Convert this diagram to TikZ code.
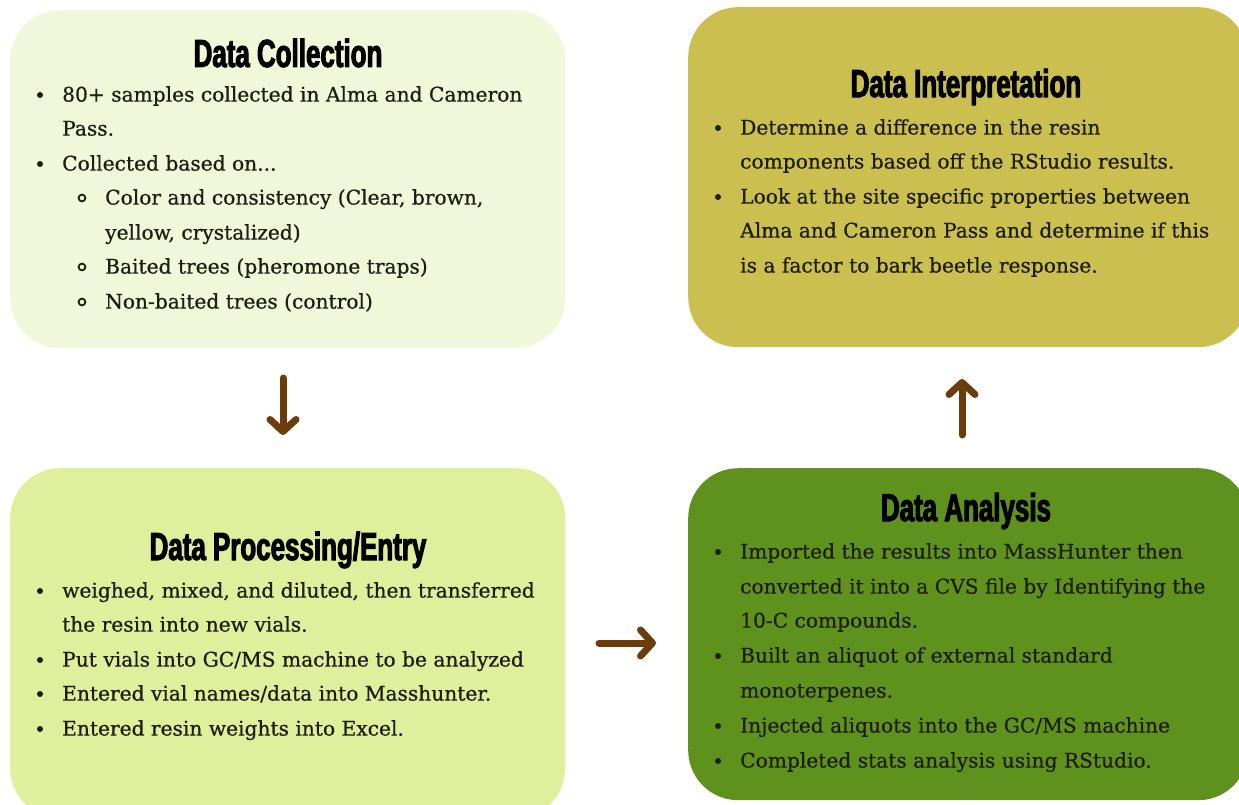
\documentclass[tikz,border=0pt]{standalone}
\usepackage{fontspec}
\setmainfont[FakeBold=0.7]{DejaVu Serif}
\newfontfamily\headfont[FakeStretch=0.665,FakeBold=2.6]{Liberation Sans}
\usetikzlibrary{arrows.meta}

\definecolor{ink}{HTML}{1E1E16}
\definecolor{paleleaf}{HTML}{F1F8D9}
\definecolor{olive}{HTML}{CBBF4F}
\definecolor{lime}{HTML}{DFEF9B}
\definecolor{moss}{HTML}{5F921D}
\definecolor{bark}{HTML}{6B3D0B}

\begin{document}
\begin{tikzpicture}[x=1pt,y=-1pt,
  panel/.style={rounded corners=50pt, inner sep=0pt, anchor=north west},
  heading/.style={font=\headfont\bfseries\fontsize{39}{39}\selectfont, inner sep=0pt, anchor=center, text=black},
  body/.style={font=\fontsize{20.2}{20.2}\selectfont, inner sep=0pt, anchor=mid west, text=ink, yshift=-4pt},
  dot/.style={fill=ink},
  ring/.style={draw=ink, line width=1.8pt},
  flow/.style={draw=bark, line width=7pt, line cap=round, line join=round,
    -{Straight Barb[length=12pt,width=26pt,round]}}
]
\useasboundingbox (0,0) rectangle (1239,805);
\clip (0,0) rectangle (1239,805);

% ---------- panels ----------
\node[panel, fill=paleleaf, minimum width=555pt, minimum height=338pt] (collect) at (10,10) {};
\node[panel, fill=olive,    minimum width=560pt, minimum height=340pt] (interp)  at (688,7) {};
\node[panel, fill=lime,     minimum width=555pt, minimum height=350pt] (process) at (10,468) {};
\node[panel, fill=moss,     minimum width=560pt, minimum height=332pt] (analysis) at (688,468) {};

% ---------- Data Collection ----------
\node[heading] (collectT) at (288,53) {Data Collection};
\fill[dot] (40,95) circle (3pt);
\node[body] (c1) at (62,95)  {80+ samples collected in Alma and Cameron};
\node[body] (c2) at (62,129) {Pass.};
\fill[dot] (40,164) circle (3pt);
\node[body] (c3) at (62,164) {Collected based on...};
\draw[ring] (82,198) circle (3.4pt);
\node[body] (c4) at (105,198) {Color and consistency (Clear, brown,};
\node[body] (c5) at (105,233) {yellow, crystalized)};
\draw[ring] (82,267) circle (3.4pt);
\node[body] (c6) at (105,267) {Baited trees (pheromone traps)};
\draw[ring] (82,302) circle (3.4pt);
\node[body] (c7) at (105,302) {Non-baited trees (control)};

% ---------- Data Interpretation ----------
\node[heading] (interpT) at (966,87) {Data Interpretation};
\fill[dot] (718,128) circle (3pt);
\node[body] (i1) at (740,128) {Determine a difference in the resin};
\node[body] (i2) at (740,162) {components based off the RStudio results.};
\fill[dot] (718,197) circle (3pt);
\node[body] (i3) at (740,197) {Look at the site specific properties between};
\node[body] (i4) at (740,231) {Alma and Cameron Pass and determine if this};
\node[body] (i5) at (740,266) {is a factor to bark beetle response.};

% ---------- Data Processing/Entry ----------
\node[heading] (processT) at (288,550) {Data Processing/Entry};
\fill[dot] (40,591) circle (3pt);
\node[body] (p1) at (62,591) {weighed, mixed, and diluted, then transferred};
\node[body] (p2) at (62,625) {the resin into new vials.};
\fill[dot] (40,660) circle (3pt);
\node[body] (p3) at (62,660) {Put vials into GC/MS machine to be analyzed};
\fill[dot] (40,694) circle (3pt);
\node[body] (p4) at (62,694) {Entered vial names/data into Masshunter.};
\fill[dot] (40,729) circle (3pt);
\node[body] (p5) at (62,729) {Entered resin weights into Excel.};

% ---------- Data Analysis ----------
\node[heading] (analysisT) at (966,511) {Data Analysis};
\fill[dot] (718,552) circle (3pt);
\node[body] (a1) at (740,552) {Imported the results into MassHunter then};
\node[body] (a2) at (740,587) {converted it into a CVS file by Identifying the};
\node[body] (a3) at (740,621) {10-C compounds.};
\fill[dot] (718,656) circle (3pt);
\node[body] (a4) at (740,656) {Built an aliquot of external standard};
\node[body] (a5) at (740,691) {monoterpenes.};
\fill[dot] (718,726) circle (3pt);
\node[body] (a6) at (740,726) {Injected aliquots into the GC/MS machine};
\fill[dot] (718,761) circle (3pt);
\node[body] (a7) at (740,761) {Completed stats analysis using RStudio.};

% ---------- flow arrows ----------
\coordinate (downS) at (283,378);
\coordinate (downE) at (283,435);
\coordinate (rightS) at (599,643);
\coordinate (rightE) at (656,643);
\coordinate (upS) at (962,435);
\coordinate (upE) at (962,379);
\draw[flow] (downS) -- (downE);
\draw[flow] (rightS) -- (rightE);
\draw[flow] (upS) -- (upE);
\end{tikzpicture}
\end{document}
